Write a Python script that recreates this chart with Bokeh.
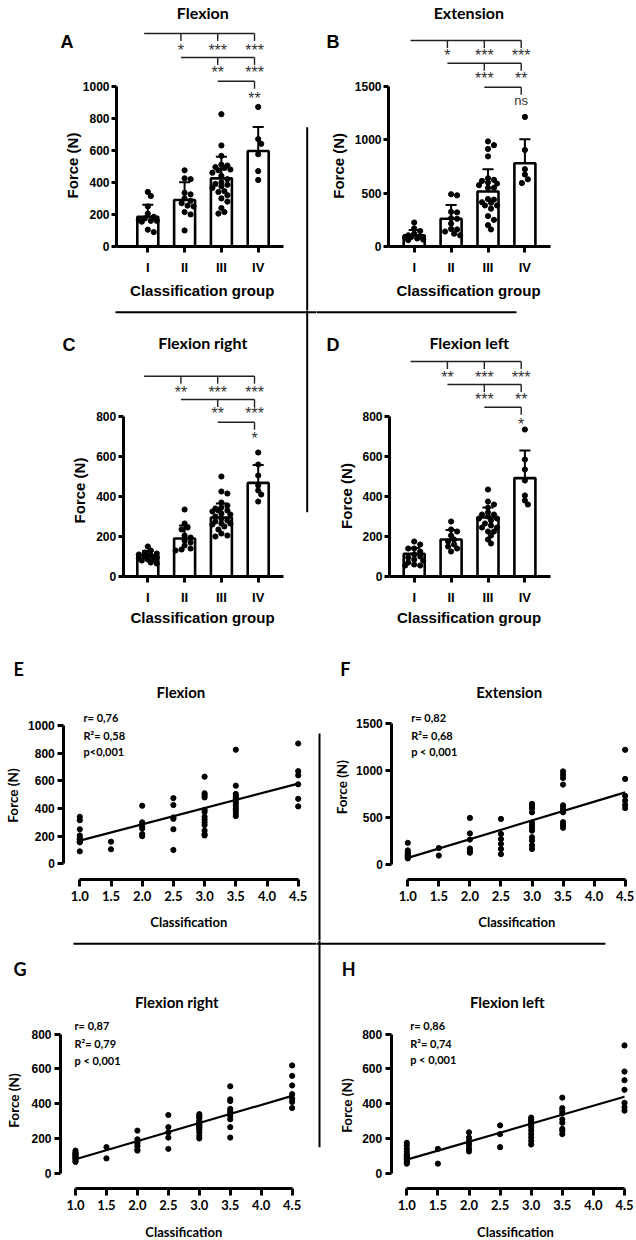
import numpy as np
from bokeh.plotting import figure
from bokeh.layouts import column, row
from bokeh.models import Range1d, LinearAxis, FixedTicker, PrintfTickFormatter
from bokeh.core.properties import value
from bokeh.embed import file_html
from bokeh.resources import INLINE

# ---------------- data ----------------
classes = [1.0, 1.5, 2.0, 2.5, 3.0, 3.5, 4.5]
class_group = [1, 1, 2, 2, 3, 3, 4]          # classification group (I..IV) of each class
group_labels = ["I", "II", "III", "IV"]
scatter_xticks = [1.0, 1.5, 2.0, 2.5, 3.0, 3.5, 4.0, 4.5]

flexion_by_class = [
    [340, 315, 250, 205, 185, 175, 165, 160, 155, 90],
    [160, 105],
    [420, 300, 285, 270, 255, 215, 200],
    [475, 425, 335, 325, 250, 100],
    [630, 510, 495, 480, 390, 375, 340, 320, 300, 280, 240, 215, 205],
    [825, 565, 505, 490, 475, 460, 440, 420, 400, 385, 365, 345],
    [870, 670, 640, 575, 470, 415],
]
extension_by_class = [
    [225, 145, 120, 105, 95, 85, 75, 65, 60],
    [170, 90],
    [490, 325, 260, 165, 140, 120],
    [480, 320, 265, 215, 160, 105],
    [640, 615, 590, 550, 440, 410, 385, 355, 285, 250, 200, 160],
    [985, 950, 915, 845, 625, 600, 575, 550, 445, 415, 385],
    [1215, 905, 725, 675, 630, 595],
]
flexion_right_by_class = [
    [130, 120, 115, 110, 105, 100, 95, 90, 85, 80, 70, 65],
    [150, 85],
    [245, 195, 180, 170, 155, 135, 130],
    [335, 265, 235, 205, 140],
    [340, 330, 325, 315, 300, 290, 280, 275, 265, 260, 250, 235, 215, 200],
    [500, 425, 415, 370, 355, 345, 330, 310, 265, 205],
    [620, 560, 505, 455, 430, 410, 375],
]
flexion_left_by_class = [
    [175, 160, 140, 125, 110, 100, 95, 85, 80, 70, 60, 55],
    [140, 55],
    [235, 205, 185, 175, 160, 140, 125],
    [275, 225, 150],
    [320, 310, 300, 290, 280, 265, 245, 225, 205, 185, 165],
    [435, 375, 360, 345, 310, 290, 255, 245, 225],
    [735, 585, 535, 480, 405, 380, 360],
]

flexion_mean = [185, 290, 425, 595]
flexion_sd = [75, 110, 135, 150]
extension_mean = [105, 260, 515, 780]
extension_sd = [50, 130, 210, 225]
flexion_right_mean = [105, 190, 295, 468]
flexion_right_sd = [22, 65, 70, 90]
flexion_left_mean = [113, 185, 295, 492]
flexion_left_sd = [30, 48, 50, 138]

flexion_fit = [168, 580]          # regression line at classification 1.0 and 4.5
extension_fit = [65, 762]
flexion_right_fit = [80, 445]
flexion_left_fit = [78, 440]

flexion_sig = [["*", "***", "***"], ["**", "***"], ["**"]]
extension_sig = [["*", "***", "***"], ["***", "**"], ["ns"]]
flexion_right_sig = [["**", "***", "***"], ["**", "***"], ["*"]]
flexion_left_sig = [["**", "***", "***"], ["***", "**"], ["*"]]

flexion_stats = ["r= 0,76", "R²= 0,58", "p<0,001"]
extension_stats = ["r= 0,82", "R²= 0,68", "p < 0,001"]
flexion_right_stats = ["r= 0,87", "R²= 0,79", "p < 0,001"]
flexion_left_stats = ["r= 0,86", "R²= 0,74", "p < 0,001"]

# ---------------- helpers ----------------
ARIAL = "Liberation Sans"
CAL = "Lato"


def base_fig(geom, xval, xpx, xppu, yval, ypx, yppu):
    ox, oy, W, H = geom
    x0 = xval - (xpx - ox) / xppu
    ytop = yval + (ypx - oy) / yppu
    p = figure(width=W, height=H,
               x_range=Range1d(x0, x0 + W / xppu),
               y_range=Range1d(ytop - H / yppu, ytop),
               output_backend="svg", toolbar_location=None,
               x_axis_location=None, y_axis_location=None,
               min_border=0, outline_line_color=None,
               background_fill_color="white", border_fill_color="white")
    p.extra_x_ranges = {"px": Range1d(0, W)}
    p.extra_y_ranges = {"px": Range1d(H, 0)}
    p.grid.visible = False
    p.title.visible = False
    return p


def ptext(p, geom, xs, ys, texts, size, font=CAL, style="bold", align="center",
          baseline="middle", angle=0.0, color="black"):
    ox, oy = geom[0], geom[1]
    p.text(x=[x - ox for x in xs], y=[y - oy for y in ys], text=texts,
           x_range_name="px", y_range_name="px",
           text_font=value(font), text_font_size=f"{size}px", text_font_style=style,
           text_align=align, text_baseline=baseline, angle=angle, text_color=color)


def pline(p, geom, x0, y0, x1, y1, width=2.0):
    ox, oy = geom[0], geom[1]
    p.segment(x0=[x0 - ox], y0=[y0 - oy], x1=[x1 - ox], y1=[y1 - oy],
              x_range_name="px", y_range_name="px", line_color="black", line_width=width)


def style_axis(ax, font, size, tick_out, standoff, width=3):
    ax.axis_line_width = width
    ax.axis_line_color = "black"
    ax.major_tick_line_width = width
    ax.major_tick_line_color = "black"
    ax.major_tick_out = tick_out
    ax.major_tick_in = 0
    ax.minor_tick_line_color = None
    ax.major_label_text_font = font
    ax.major_label_text_font_size = f"{size}px"
    ax.major_label_text_font_style = "bold"
    ax.major_label_text_color = "black"
    ax.major_label_standoff = standoff
    ax.axis_label = None


def group_values(by_class):
    groups = [[] for _ in group_labels]
    for g, vals in zip(class_group, by_class):
        groups[g - 1].extend(vals)
    return groups


def swarm(vals, ppn, ppu, dot=5.0, maxhalf=0.30):
    """deterministic beeswarm spreading of dots (offsets in x units)"""
    vals = np.asarray(vals, float)
    order = np.argsort(-vals, kind="stable")
    step = dot * 0.6
    cands = [0.0]
    for k in range(1, 10):
        cands += [k * step, -k * step]
    lim = maxhalf * ppu
    placed = []
    off = np.zeros(len(vals))
    for i in order:
        y = vals[i] * ppn
        best, bestd = 0.0, -1.0
        for c in cands:
            if abs(c) > lim:
                continue
            d = min([np.hypot(c - px, y - py) for px, py in placed] or [1e9])
            if d >= dot:
                best = c
                break
            if d > bestd:
                bestd, best = d, c
        placed.append((best, y))
        off[i] = best / ppu
    return off


def bar_panel(geom, spec, means, sds, by_class, sig, brackets, title, title_xy,
              letter, letter_xy, ylab_xy, xlab_xy):
    bar1, spacing, zero_y, ppn, yaxis_x, xend, ymax, ystep = spec
    p = base_fig(geom, 1, bar1, spacing, 0, zero_y, ppn)
    ox, oy = geom[0], geom[1]

    def xdata(px):
        return 1 + (px - bar1) / spacing

    xs = list(range(1, len(group_labels) + 1))
    p.vbar(x=xs, top=means, bottom=0, width=0.57, fill_color="white",
           line_color="black", line_width=2.6)
    for gi, vals in enumerate(group_values(by_class)):
        off = swarm(vals, ppn, spacing)
        p.scatter(x=list(gi + 1 + off), y=vals, size=5.2, color="black")
    tops = [m + s for m, s in zip(means, sds)]
    p.segment(x0=xs, y0=means, x1=xs, y1=tops, line_width=2, line_color="black")
    p.segment(x0=[x - 0.15 for x in xs], y0=tops, x1=[x + 0.15 for x in xs], y1=tops,
              line_width=2, line_color="black")

    yax = LinearAxis(fixed_location=xdata(yaxis_x), bounds=(0, ymax),
                     ticker=FixedTicker(ticks=list(range(0, ymax + 1, ystep))))
    style_axis(yax, ARIAL, 12, 5, 2)
    p.add_layout(yax, "left")
    xax = LinearAxis(fixed_location=0, bounds=(xdata(yaxis_x), xdata(xend)),
                     ticker=FixedTicker(ticks=xs),
                     major_label_overrides={x: l for x, l in zip(xs, group_labels)})
    style_axis(xax, ARIAL, 13, 6, 7)
    p.add_layout(xax, "below")

    # significance brackets
    br_off = -0.1
    for level, ((line_y, lab_y), labels) in enumerate(zip(brackets, sig)):
        gx = [g + br_off for g in range(level + 1, len(xs) + 1)]
        ly = line_y - oy
        p.segment(x0=[gx[0]], x1=[gx[-1]], y0=[ly], y1=[ly], y_range_name="px",
                  line_color="#222222", line_width=1.4)
        drops = gx[1:]
        n = len(drops)
        p.segment(x0=drops, x1=drops, y0=[ly] * n, y1=[ly + 7.5] * n, y_range_name="px",
                  line_color="#222222", line_width=1.4)
        for dx, lab in zip(drops, labels):
            if lab == "ns":
                p.text(x=[dx], y=[lab_y - oy - 0.5], text=[lab], y_range_name="px",
                       text_font=value(ARIAL), text_font_size="13px", text_align="center",
                       text_baseline="alphabetic", text_color="#333333")
            else:
                p.text(x=[dx], y=[lab_y - oy + 2.0], text=[lab], y_range_name="px",
                       text_font=value(ARIAL), text_font_size="16px", text_align="center",
                       text_baseline="alphabetic", text_color="#333333")

    ptext(p, geom, [title_xy[0]], [title_xy[1]], [title], 16)
    ptext(p, geom, [letter_xy[0]], [letter_xy[1]], [letter], 18, font=ARIAL, align="left")
    ptext(p, geom, [ylab_xy[0]], [ylab_xy[1]], ["Force (N)"], 15, font=ARIAL, angle=np.pi / 2)
    ptext(p, geom, [xlab_xy[0]], [xlab_xy[1]], ["Classification group"], 15, font=ARIAL)
    return p


def scatter_panel(geom, spec, by_class, fit, stats, stats_xy, title, title_xy,
                  letter, letter_xy, ylab_xy, xlab_xy):
    x1px, ppu, zero_y, ppn, yaxis_x, xaxis_y, ymax, ystep = spec
    p = base_fig(geom, classes[0], x1px, ppu, 0, zero_y, ppn)
    xs, ys = [], []
    for c, vals in zip(classes, by_class):
        xs += [c] * len(vals)
        ys += vals
    p.scatter(x=xs, y=ys, size=5.2, color="black")
    p.line(x=[classes[0], classes[-1]], y=fit, line_width=2.2, line_color="black")

    yax = LinearAxis(fixed_location=classes[0] + (yaxis_x - x1px) / ppu, bounds=(0, ymax),
                     ticker=FixedTicker(ticks=list(range(0, ymax + 1, ystep))))
    style_axis(yax, ARIAL, 12, 6, 3)
    p.add_layout(yax, "left")
    xax = LinearAxis(fixed_location=(zero_y - xaxis_y) / ppn,
                     bounds=(scatter_xticks[0], scatter_xticks[-1]),
                     ticker=FixedTicker(ticks=scatter_xticks),
                     formatter=PrintfTickFormatter(format="%.1f"))
    style_axis(xax, CAL, 13, 7, 4)
    p.add_layout(xax, "below")

    sx, sy = stats_xy
    ptext(p, geom, [sx] * 3, sy, stats, 11, align="left")
    ptext(p, geom, [title_xy[0]], [title_xy[1]], [title], 15)
    ptext(p, geom, [letter_xy[0]], [letter_xy[1]], [letter], 18, align="left")
    ptext(p, geom, [ylab_xy[0]], [ylab_xy[1]], ["Force (N)"], 13.5, angle=np.pi / 2)
    ptext(p, geom, [xlab_xy[0]], [xlab_xy[1]], ["Classification"], 13)
    return p


# ---------------- panel geometry (page pixels: left, top, width, height) ----------------
gA, gB = (0, 0, 316, 310), (316, 0, 320, 310)
gC, gD = (0, 310, 316, 322), (316, 310, 320, 322)
gE, gF = (0, 632, 316, 308), (316, 632, 320, 308)
gG, gH = (0, 940, 316, 300), (316, 940, 320, 300)

# bar panels: bar I x, bar spacing, y of zero, px per N, y-axis x, x-axis end, y max, y step
pA = bar_panel(gA, (147.3, 36.8, 246, 0.1604, 116, 283, 1000, 200),
               flexion_mean, flexion_sd, flexion_by_class, flexion_sig,
               [(33, 48), (57, 70), (80.7, 95.7)],
               "Flexion", (202.3, 11.7), "A", (60, 41.5), (71.5, 165), (201.7, 290))
pB = bar_panel(gB, (413.7, 36.9, 246, 160 / 1500, 388, 549.7, 1500, 500),
               extension_mean, extension_sd, extension_by_class, extension_sig,
               [(40, 53.3), (62.7, 76), (86.7, 100)],
               "Extension", (468.3, 11.7), "B", (326, 41.5), (338, 165.3), (468, 290))
pC = bar_panel(gC, (147.3, 36.8, 576, 0.2, 122.7, 283, 800, 200),
               flexion_right_mean, flexion_right_sd, flexion_right_by_class, flexion_right_sig,
               [(375.7, 390), (399, 410.7), (421.7, 436)],
               "Flexion right", (202.3, 341.7), "C", (62, 344), (79, 490), (202, 617))
pD = bar_panel(gD, (413.7, 36.9, 576, 0.2, 389, 549.7, 800, 200),
               flexion_left_mean, flexion_left_sd, flexion_left_by_class, flexion_left_sig,
               [(361, 375), (384, 397.3), (406.7, 421.7)],
               "Flexion left", (468.7, 341.7), "D", (326, 344), (345.7, 495.5), (468.5, 617))

# scatter panels: x of 1.0, px per unit, y of zero, px per N, y-axis x, x-axis y, y max, y step
pE = scatter_panel(gE, (79.3, 62.4, 863.3, 0.1383, 63.3, 879, 1000, 200),
                   flexion_by_class, flexion_fit, flexion_stats, (83, [716.7, 735, 750.7]),
                   "Flexion", (180.4, 691.7), "E", (13, 668), (12.3, 795), (188.3, 921.7))
pF = scatter_panel(gF, (407.3, 62.1, 863.5, 0.094, 391.3, 879, 1500, 500),
                   extension_by_class, extension_fit, extension_stats, (410.7, [716.7, 735, 750.7]),
                   "Extension", (508.7, 691.7), "F", (339.7, 668), (341.3, 786.7), (516.3, 921.7))
pG = scatter_panel(gG, (75, 61.9, 1172.7, 0.1738, 60, 1188.3, 800, 200),
                   flexion_right_by_class, flexion_right_fit, flexion_right_stats, (74, [1025, 1043, 1060]),
                   "Flexion right", (176.3, 1001.7), "G", (13, 968.3), (13.3, 1100), (183.3, 1231.7))
pH = scatter_panel(gH, (406.3, 62.2, 1172.7, 0.1738, 390.7, 1188.3, 800, 200),
                   flexion_left_by_class, flexion_left_fit, flexion_left_stats, (409.7, [1025, 1043, 1059]),
                   "Flexion left", (506.7, 1001.7), "H", (341.3, 968), (346.3, 1105), (515, 1231.7))

# separator lines (page pixels)
pline(pA, gA, 306.7, 126.7, 306.7, 312)
pline(pC, gC, 306.7, 308, 306.7, 511.7)
pline(pC, gC, 115, 311.7, 318, 311.7)
pline(pD, gD, 314, 311.7, 516, 311.7)
pline(pF, gF, 319, 733, 319, 942)
pline(pH, gH, 319, 938, 319, 1146.7)
pline(pG, gG, 73, 943.3, 318, 943.3)
pline(pH, gH, 314, 943.3, 605, 943.3)

layout = column(row(pA, pB), row(pC, pD), row(pE, pF), row(pG, pH), spacing=0)

with open("out.html", "w") as f:
    f.write(file_html(layout, INLINE))
